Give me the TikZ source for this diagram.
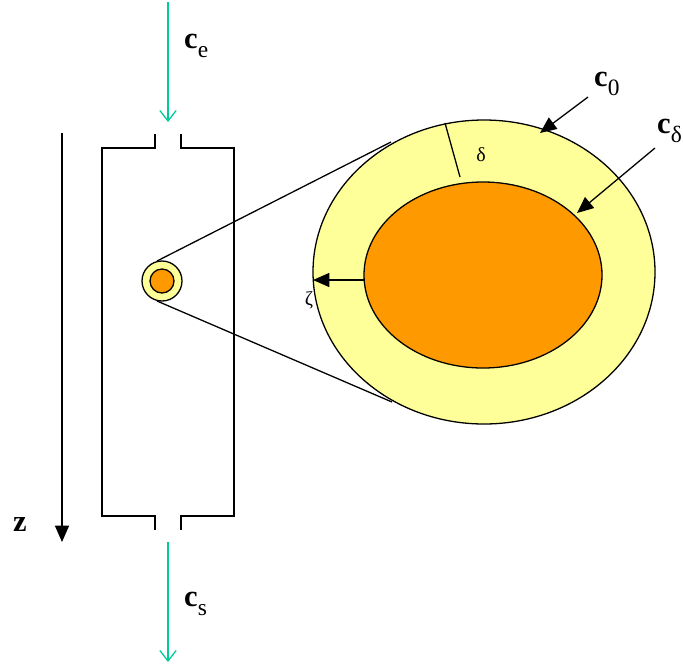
\documentclass[tikz,border=0pt]{standalone}
\usepackage{fontspec}
\setmainfont{Liberation Serif}
\usetikzlibrary{arrows.meta}
\definecolor{film}{RGB}{255,255,153}
\definecolor{core}{RGB}{255,153,0}
\definecolor{flow}{RGB}{0,204,153}
\newcommand{\conc}[1]{c\raisebox{-0.28em}{\fontsize{20}{20}\selectfont\mdseries #1}}
\tikzset{
  wall/.style={line width=1.1pt, black},
  flowarrow/.style={flow, line width=1.1pt, -{Straight Barb[length=9pt, width=14pt, line width=1.1pt]}},
  pointer/.style={line width=1.1pt, -{Triangle[length=14pt, width=12pt]}},
  biglabel/.style={font=\fontsize{26}{28}\selectfont\bfseries, inner sep=0pt},
  smalllabel/.style={font=\fontsize{17}{19}\selectfont, inner sep=0pt}
}
\begin{document}
\begin{tikzpicture}[x=0.03cm, y=-0.03cm]
\useasboundingbox (0,0) rectangle (683,666);
% column
\draw[wall] (155,134) -- (155,148) -- (102,148) -- (102,516) -- (155,516) -- (155,530);
\draw[wall] (181,134) -- (181,148) -- (234,148) -- (234,516) -- (181,516) -- (181,530);
% inlet and outlet
\coordinate (inTop) at (168,2);
\coordinate (inEnd) at (168,122);
\coordinate (outTop) at (168,542);
\coordinate (outEnd) at (168,662);
\draw[flowarrow] (inTop) -- (inEnd);
\draw[flowarrow] (outTop) -- (outEnd);
\node[biglabel, anchor=west] (ce) at (184,46) {\conc{e}};
\node[biglabel, anchor=west] (cs) at (184,604) {\conc{s}};
% axis
\coordinate (zTop) at (62,133);
\coordinate (zEnd) at (62,542);
\draw[pointer] (zTop) -- (zEnd);
\node[biglabel] (z) at (20,524) {z};
% zoom lines
\coordinate (zoomA) at (157,261);
\coordinate (zoomB) at (391,142);
\coordinate (zoomC) at (157,301);
\coordinate (zoomD) at (392,402);
\draw[wall] (zoomA) -- (zoomB);
\draw[wall] (zoomC) -- (zoomD);
% small particle
\filldraw[fill=film, draw=black, line width=1.1pt] (162,281) circle [x radius=20, y radius=20];
\filldraw[fill=core, draw=black, line width=1.1pt] (162,281) circle [x radius=12, y radius=12];
% large particle
\filldraw[fill=film, draw=black, line width=1.1pt] (484,272) ellipse [x radius=171, y radius=152];
\filldraw[fill=core, draw=black, line width=1.1pt] (483,275) ellipse [x radius=119, y radius=93];
% film thickness
\coordinate (dOut) at (445,123);
\coordinate (dIn) at (460,177);
\draw[wall] (dOut) -- (dIn);
\node[smalllabel] (delta) at (481,155) {δ};
% radial coordinate
\coordinate (zetaStart) at (364,280);
\coordinate (zetaEnd) at (313,280);
\draw[pointer] (zetaStart) -- (zetaEnd);
\node[smalllabel] (zeta) at (309,300) {ζ};
% surface concentrations
\node[biglabel, anchor=west] (c0) at (594,84) {\conc{0}};
\node[biglabel, anchor=west] (cd) at (657,131) {\conc{δ}};
\coordinate (c0Tail) at (588,97);
\coordinate (c0Tip) at (540,133);
\coordinate (cdTail) at (655,148);
\coordinate (cdTip) at (577,213);
\draw[pointer] (c0Tail) -- (c0Tip);
\draw[pointer] (cdTail) -- (cdTip);
\end{tikzpicture}
\end{document}
